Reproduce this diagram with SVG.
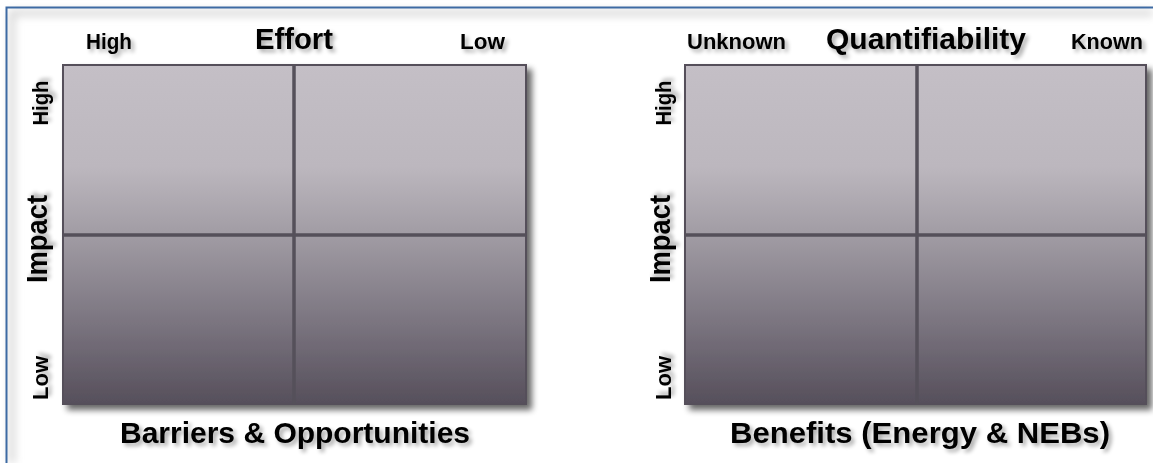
<svg xmlns="http://www.w3.org/2000/svg" width="1153" height="463" viewBox="0 0 1153 463">
<defs>
<linearGradient id="cellGrad" x1="0" y1="0" x2="0" y2="1">
<stop offset="0" stop-color="#c4bfc6"/>
<stop offset="0.3" stop-color="#bcb7be"/>
<stop offset="0.5" stop-color="#a19ca4"/>
<stop offset="0.75" stop-color="#7c7681"/>
<stop offset="1" stop-color="#564f5b"/>
</linearGradient>
<filter id="boxShadow" x="-10%" y="-10%" width="125%" height="125%">
<feGaussianBlur in="SourceAlpha" stdDeviation="3"/>
<feOffset dx="5" dy="5" result="b"/>
<feComponentTransfer><feFuncA type="linear" slope="0.6"/></feComponentTransfer>
<feMerge><feMergeNode/><feMergeNode in="SourceGraphic"/></feMerge>
</filter>
<filter id="textShadow" x="-20%" y="-40%" width="140%" height="200%">
<feGaussianBlur in="SourceAlpha" stdDeviation="2"/>
<feOffset dx="3" dy="3"/>
<feComponentTransfer><feFuncA type="linear" slope="0.35"/></feComponentTransfer>
<feMerge><feMergeNode/><feMergeNode in="SourceGraphic"/></feMerge>
</filter>
<filter id="innerGlow" x="-5%" y="-5%" width="110%" height="110%">
<feGaussianBlur stdDeviation="4"/>
</filter>
</defs>
<style>
text{font-family:"Liberation Sans",Arial,sans-serif;font-weight:bold;fill:#000;filter:url(#textShadow)}
.lbl{font-size:22px}
.ttl{font-size:30px}
.bot{font-size:30px}
.grid{fill:url(#cellGrad);stroke:#55505a;stroke-width:2}
.div{stroke:#55505a;stroke-width:3.5}
</style>
<rect width="1153" height="463" fill="#ffffff"/>
<g id="frame">
<path d="M12,463 L12,13 L1153,13" fill="none" stroke="#d6d6d6" stroke-width="6" filter="url(#innerGlow)"/>
<path d="M6.5,463 L6.5,7.5 L1153,7.5" fill="none" stroke="#3d6aa3" stroke-width="2"/>
</g>
<g id="matrix-barriers">
<rect class="grid" x="63" y="65" width="463" height="339" filter="url(#boxShadow)"/>
</g>
<g id="matrix-benefits">
<rect class="grid" x="685" y="65" width="461" height="339" filter="url(#boxShadow)"/>
</g>
<g id="connectors">
<line class="div" x1="294" y1="65" x2="294" y2="404"/>
<line class="div" x1="63" y1="235" x2="526" y2="235"/>
<line class="div" x1="917" y1="65" x2="917" y2="404"/>
<line class="div" x1="685" y1="235" x2="1146" y2="235"/>
</g>
<g id="labels-barriers">
<text class="lbl" x="86" y="49" textLength="46" lengthAdjust="spacingAndGlyphs">High</text>
<text class="ttl" x="294" y="49" text-anchor="middle" textLength="78" lengthAdjust="spacingAndGlyphs">Effort</text>
<text class="lbl" x="505" y="49" text-anchor="end" textLength="45" lengthAdjust="spacingAndGlyphs">Low</text>
<text class="lbl" transform="translate(48,103) rotate(-90)" text-anchor="middle" textLength="45" lengthAdjust="spacingAndGlyphs">High</text>
<text class="ttl" transform="translate(47,239) rotate(-90)" text-anchor="middle" textLength="88" lengthAdjust="spacingAndGlyphs">Impact</text>
<text class="lbl" transform="translate(48,378) rotate(-90)" text-anchor="middle" textLength="44" lengthAdjust="spacingAndGlyphs">Low</text>
<text class="bot" x="295" y="443" text-anchor="middle" textLength="350" lengthAdjust="spacingAndGlyphs">Barriers &amp; Opportunities</text>
</g>
<g id="labels-benefits">
<text class="lbl" x="687" y="49" textLength="99" lengthAdjust="spacingAndGlyphs">Unknown</text>
<text class="ttl" x="926" y="49" text-anchor="middle" textLength="200" lengthAdjust="spacingAndGlyphs">Quantifiability</text>
<text class="lbl" x="1143" y="49" text-anchor="end" textLength="72" lengthAdjust="spacingAndGlyphs">Known</text>
<text class="lbl" transform="translate(671,103) rotate(-90)" text-anchor="middle" textLength="45" lengthAdjust="spacingAndGlyphs">High</text>
<text class="ttl" transform="translate(670,239) rotate(-90)" text-anchor="middle" textLength="88" lengthAdjust="spacingAndGlyphs">Impact</text>
<text class="lbl" transform="translate(671,378) rotate(-90)" text-anchor="middle" textLength="44" lengthAdjust="spacingAndGlyphs">Low</text>
<text class="bot" x="920" y="443" text-anchor="middle" textLength="380" lengthAdjust="spacingAndGlyphs">Benefits (Energy &amp; NEBs)</text>
</g>
</svg>
